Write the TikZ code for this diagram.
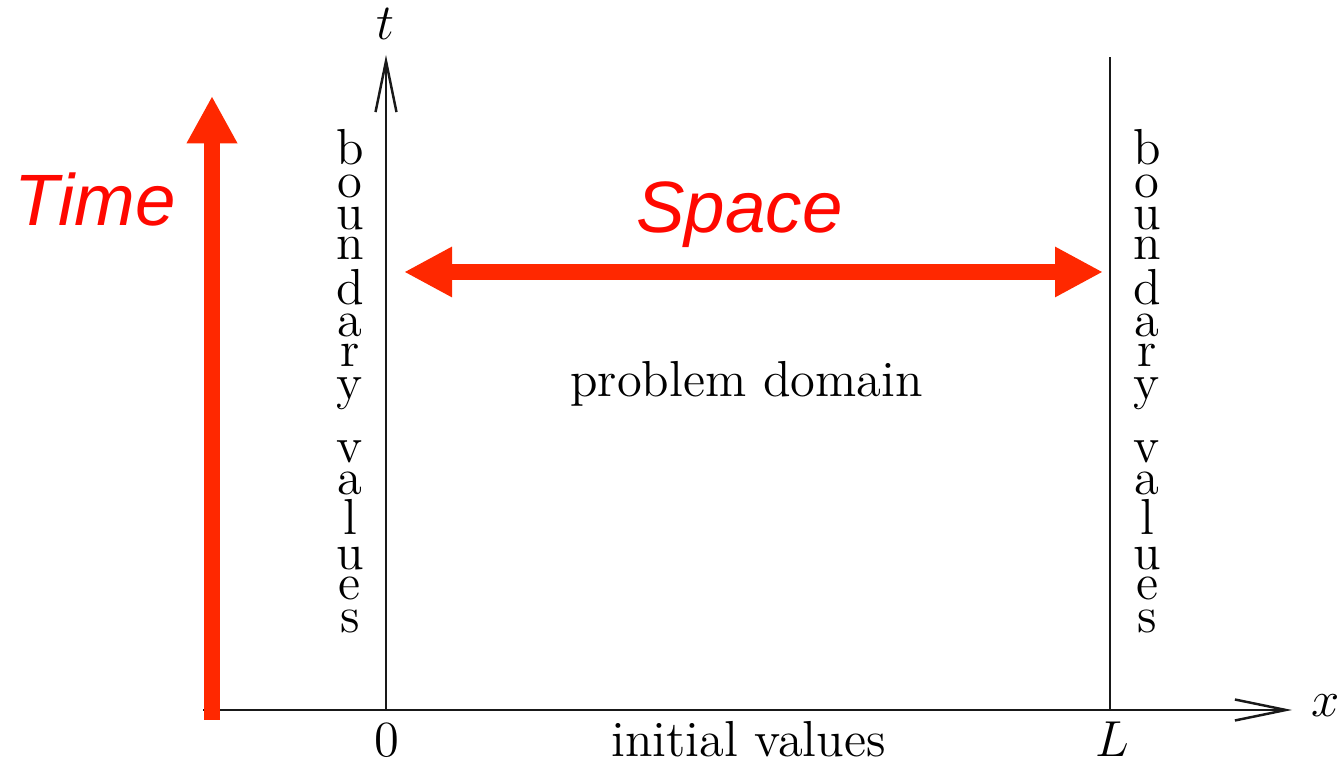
\documentclass[tikz,border=0pt]{standalone}
\usepackage{fontspec}
\newfontfamily\redsans{Liberation Sans}
\usetikzlibrary{arrows.meta}
\definecolor{arrowred}{RGB}{255,40,0}
\definecolor{textred}{RGB}{255,8,0}
\tikzset{
  axisline/.style={line width=0.7pt, draw=black!90},
  axisarrow/.style={axisline, -{Straight Barb[length=5.1mm,width=2.1mm,line width=0.7pt]}},
  bigarrow/.style={draw=arrowred, line width=0.155cm, -{Triangle[length=4.75mm,width=4.75mm]}},
  bigdarrow/.style={draw=arrowred, line width=0.155cm, {Triangle[length=4.8mm,width=4.7mm]}-{Triangle[length=4.8mm,width=4.7mm]}},
  serif/.style={font=\fontsize{14.4}{17}\selectfont, inner sep=0pt},
  redlabel/.style={font=\redsans\itshape\fontsize{20.7}{24}\selectfont, text=textred, inner sep=0pt}
}
\begin{document}
\begin{tikzpicture}
\useasboundingbox (0,0) rectangle (13.40,7.63);
% axes
\coordinate (o) at (3.86,0.53);
\coordinate (xstart) at (2.03,0.53);
\coordinate (xend) at (12.92,0.53);
\coordinate (tend) at (3.86,7.08);
\coordinate (lbot) at (11.10,0.53);
\coordinate (ltop) at (11.10,7.06);
\draw[axisarrow] (xstart) -- (xend);
\draw[axisarrow] (o) -- (tend);
\draw[axisline] (lbot) -- (ltop);
\node[serif, anchor=base] (tlab) at (3.85,7.23) {$t$};
\node[serif, anchor=base] (xlab) at (13.26,0.46) {$x$};
\node[serif, anchor=base] (zero) at (3.87,0.06) {0};
\node[serif, anchor=base] (Llab) at (11.12,0.06) {$L$};
\node[serif, anchor=base] (init) at (7.485,0.06) {initial values};
\node[serif, anchor=base] (dom) at (7.465,3.66) {problem domain};
% boundary values letters
\foreach \ch/\yy [count=\i] in {b/5.98,o/5.65,u/5.33,n/5.03,d/4.58,a/4.26,r/3.96,y/3.63,v/3.00,a/2.68,l/2.28,u/1.93,e/1.63,s/1.30}{
  \node[serif, anchor=base] (lb\i) at (3.50,\yy) {\ch};
  \node[serif, anchor=base] (rb\i) at (11.47,\yy) {\ch};
}
% red arrows
\coordinate (tbot) at (2.12,0.43);
\coordinate (ttip) at (2.12,6.67);
\coordinate (sl) at (4.04,4.91);
\coordinate (sr) at (11.03,4.91);
\draw[bigarrow] (tbot) -- (ttip);
\draw[bigdarrow] (sl) -- (sr);
\node[redlabel, anchor=base west] (time) at (0.14,5.37) {Time};
\node[redlabel, anchor=base] (space) at (7.395,5.30) {Space};
\end{tikzpicture}
\end{document}
